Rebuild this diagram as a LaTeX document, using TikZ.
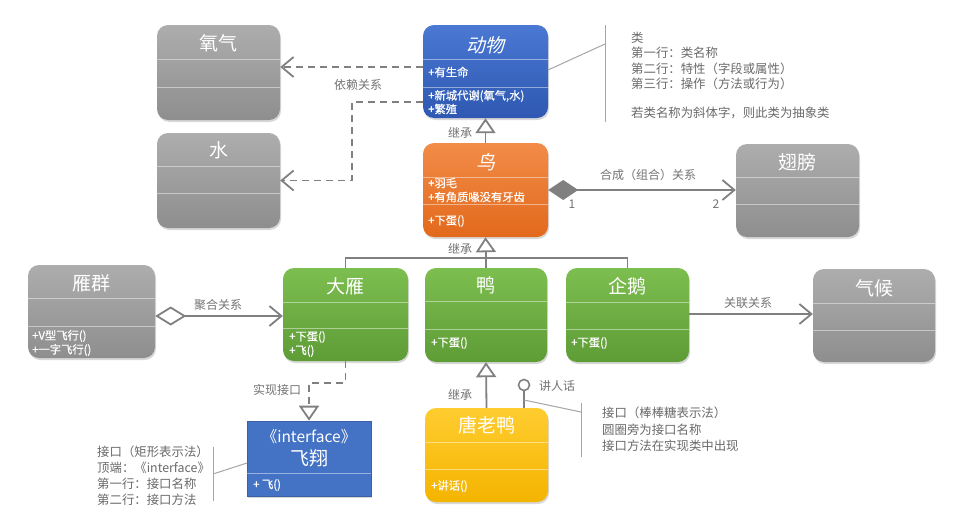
\documentclass[tikz,border=0pt]{standalone}
\usepackage{fontspec}
\setmainfont{Noto Sans CJK SC}
\newfontfamily\cjkit[FakeSlant=0.22]{Noto Sans CJK SC}
\newfontfamily\cjkmed[FakeBold=0.4]{Noto Sans CJK SC}
\usetikzlibrary{arrows.meta,shadows,fit}
\definecolor{grayT}{HTML}{ADADAD}
\definecolor{grayB}{HTML}{8E8E8E}
\definecolor{blueT}{HTML}{4A78D2}
\definecolor{blueB}{HTML}{2E58B2}
\definecolor{oraT}{HTML}{F28C48}
\definecolor{oraB}{HTML}{E2691C}
\definecolor{grnT}{HTML}{7DBE50}
\definecolor{grnB}{HTML}{5E9C36}
\definecolor{yelT}{HTML}{FFCD30}
\definecolor{yelB}{HTML}{F4B400}
\definecolor{ifaceC}{HTML}{4472C4}
\definecolor{lineC}{HTML}{808080}
\definecolor{lblC}{HTML}{737373}
\definecolor{noteC}{HTML}{6A6A6A}
\newcommand\ucls[8]{%
  \node[#2, fit={(#3,#4) (#5,#6)}] (#1) {};
  \draw[sepl] (#3,#7) -- (#5,#7);
  \draw[sepl] (#3,#8) -- (#5,#8);}
\begin{document}
\begin{tikzpicture}[x=1pt,y=-1pt,
  cls/.style={rounded corners=11pt, inner sep=0pt, draw=none,
    drop shadow={opacity=0.3,shadow xshift=1pt,shadow yshift=-2pt}},
  grayc/.style={cls, top color=grayT, bottom color=grayB},
  bluec/.style={cls, top color=blueT, bottom color=blueB},
  orac/.style={cls, top color=oraT, bottom color=oraB},
  grnc/.style={cls, top color=grnT, bottom color=grnB},
  yelc/.style={cls, top color=yelT, bottom color=yelB},
  ifc/.style={inner sep=0pt, fill=ifaceC, draw=ifaceC!85!black, line width=0.6pt,
    drop shadow={opacity=0.3,shadow xshift=1pt,shadow yshift=-2pt}},
  sepl/.style={draw=white, draw opacity=0.45, line width=0.8pt},
  ttl/.style={text=white, font=\fontsize{19}{20}\selectfont, inner sep=0pt},
  itm/.style={text=white, font=\cjkmed\fontsize{11.3}{12}\selectfont, anchor=west, inner sep=0pt},
  conn/.style={draw=lineC, line width=1.8pt},
  dsh/.style={dash pattern=on 7pt off 5pt},
  opena/.style={-{Straight Barb[length=12pt,width=20pt]}},
  tri/.style={-{Triangle[open,length=15pt,width=20pt,fill=white]}},
  lbl/.style={text=lblC, font=\fontsize{12}{14}\selectfont, inner sep=0pt},
  note/.style={text=noteC, font=\fontsize{12.4}{14}\selectfont, anchor=west, inner sep=0pt},
  nbar/.style={draw=lineC!70, line width=1pt}
]
\useasboundingbox[fill=white] (0,0) rectangle (979,530);

% ---- classes ----
\ucls{yangqi}{grayc}{157}{25}{280}{120}{59}{87}
\ucls{shui}{grayc}{157}{133}{280}{228}{166}{193}
\ucls{dongwu}{bluec}{423}{25}{548}{118}{59}{87}
\ucls{niao}{orac}{423}{143}{548}{237}{177}{204}
\ucls{chibang}{grayc}{736}{144}{859}{237}{177}{204}
\ucls{yanqun}{grayc}{28}{265}{155}{358}{298}{326}
\ucls{dayan}{grnc}{283}{268}{408}{361}{302}{328}
\ucls{ya}{grnc}{425}{268}{547}{362}{301}{329}
\ucls{qie}{grnc}{566}{268}{689}{362}{302}{329}
\ucls{qihou}{grayc}{813}{269}{935}{362}{303}{330}
\ucls{tang}{yelc}{425}{408}{548}{502}{442}{469}
\node[ifc, fit={(247,421) (371,496)}] (feixiang) {};
\draw[sepl] (247,473) -- (371,473);

% ---- titles ----
\node[ttl] at (218.5,43) {氧气};
\node[ttl] at (218.5,150) {水};
\node[ttl, font=\cjkit\fontsize{19}{20}\selectfont] at (485.5,45) {动物};
\node[ttl, font=\cjkit\fontsize{19}{20}\selectfont] at (485.5,162) {鸟};
\node[ttl] at (797.5,162) {翅膀};
\node[ttl] at (91.5,283) {雁群};
\node[ttl] at (345.5,286) {大雁};
\node[ttl] at (486,285) {鸭};
\node[ttl] at (627.5,286) {企鹅};
\node[ttl] at (874,288) {气候};
\node[ttl] at (486.5,425) {唐老鸭};
\node[ttl, font=\fontsize{15.5}{17}\selectfont] at (309,437) {《interface》};
\node[ttl] at (309,458) {飞翔};

% ---- items ----
\node[itm] at (428,72) {+有生命};
\node[itm] at (428,96) {+新城代谢(氧气,水)};
\node[itm] at (428,109) {+繁殖};
\node[itm] at (428,183) {+羽毛};
\node[itm] at (428,197) {+有角质喙没有牙齿};
\node[itm] at (428,221) {+下蛋()};
\node[itm] at (32,336) {+V型飞行()};
\node[itm] at (32,350) {+一字飞行()};
\node[itm] at (289,337) {+下蛋()};
\node[itm] at (289,351) {+飞()};
\node[itm] at (431,343) {+下蛋()};
\node[itm] at (571,343) {+下蛋()};
\node[itm] at (253,485) {+ 飞()};
\node[itm] at (431,486) {+讲话()};

% ---- helper coordinates ----
\coordinate (y67) at (0,67);
\coordinate (y102) at (0,102);
\coordinate (dep) at (352,102);
\coordinate (y316) at (0,316);
\coordinate (y314) at (0,314);
\coordinate (j) at (486,258);
\coordinate (k) at (0,383);
\coordinate (lstem) at (524,400);
\coordinate (lnote) at (581,412);
\coordinate (dnote) at (548,70);
\coordinate (dbar) at (605,44);
\coordinate (inote) at (213,474);
\coordinate (ifin) at (247,463);

% ---- connectors ----
% dependency
\draw[conn, dsh, opena] (dongwu.west |- y67) -- (yangqi.east |- y67);
\draw[conn, dsh, opena] (dongwu.west |- y102) -- (dep) |- (shui.east);
\node[lbl] at (358,85) {依赖关系};
% inheritance bird -> animal
\draw[conn, tri] (niao.north) -- (dongwu.south);
\node[lbl] at (460,133) {继承};
% composition
\draw[conn, {Diamond[length=30pt,width=20pt]}-{Straight Barb[length=12pt,width=20pt]}] (niao.east) -- (niao.east -| chibang.west);
\node[lbl] at (648,175) {合成（组合）关系};
\node[lbl] at (572,204) {1};
\node[lbl] at (716,204) {2};
% inheritance tree
\draw[conn] (dayan.north) -- (dayan.north |- j) -- (qie.north |- j) -- (qie.north);
\draw[conn] (ya.north) -- (j);
\draw[conn, tri] (j) -- (niao.south);
\node[lbl] at (460,249) {继承};
% aggregation
\draw[conn, {Diamond[open,fill=white,length=31pt,width=19pt]}-{Straight Barb[length=12pt,width=20pt]}] (yanqun.east |- y316) -- (dayan.west |- y316);
\node[lbl] at (218,305) {聚合关系};
% association
\draw[conn, opena] (qie.east |- y314) -- (qihou.west |- y314);
\node[lbl] at (748,303) {关联关系};
% realization
\draw[conn, dsh, tri] (dayan.south) -- (dayan.south |- k) -| (feixiang.north);
\node[lbl] at (277,390) {实现接口};
% inheritance donald -> duck
\draw[conn, tri] (tang.north) -- (ya.south);
\node[lbl] at (460,395) {继承};
% lollipop
\node[circle, draw=lineC, line width=1.6pt, fill=white, minimum size=11pt, inner sep=0pt] (lolli) at (524,385) {};
\draw[conn] (tang.north -| lolli) -- (lolli.south);
\node[lbl] at (557,386) {讲人话};

% ---- notes ----
\draw[nbar] (dnote) -- (dbar);
\draw[nbar] (605,25) -- (605,122);
\node[note] at (631,38) {类};
\node[note] at (631,53) {第一行：类名称};
\node[note] at (631,69) {第二行：特性（字段或属性）};
\node[note] at (631,84) {第三行：操作（方法或行为）};
\node[note] at (631,113) {若类名称为斜体字，则此类为抽象类};

\draw[nbar] (lstem) -- (lnote);
\draw[nbar] (581,403) -- (581,457);
\node[note] at (602,413) {接口（棒棒糖表示法）};
\node[note] at (602,430) {圆圈旁为接口名称};
\node[note] at (602,446) {接口方法在实现类中出现};

\draw[nbar] (inote) -- (ifin);
\draw[nbar] (213,447) -- (213,501);
\node[note] at (97,452) {接口（矩形表示法）};
\node[note] at (97,468) {顶端：《interface》};
\node[note] at (97,484) {第一行：接口名称};
\node[note] at (97,500) {第二行：接口方法};
\end{tikzpicture}
\end{document}
